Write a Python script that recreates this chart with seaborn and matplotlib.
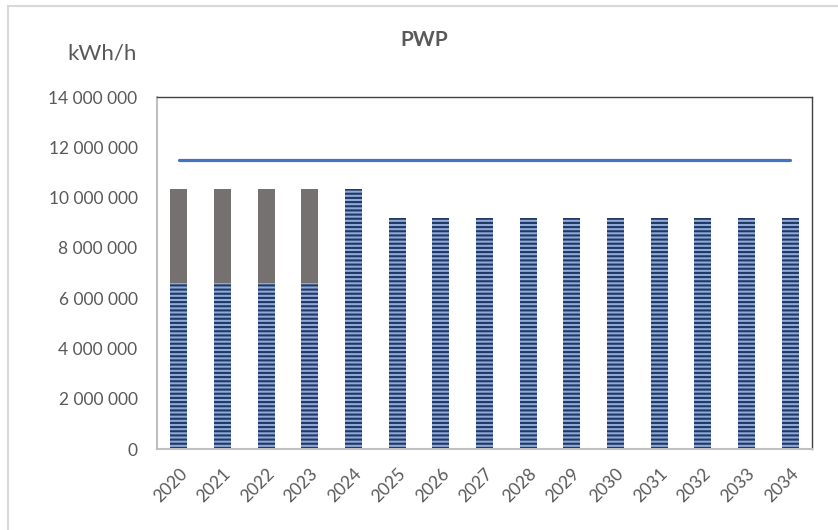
import numpy as np
import pandas as pd
import matplotlib
matplotlib.use("Agg")
import matplotlib.pyplot as plt
from matplotlib.ticker import FuncFormatter
from matplotlib.lines import Line2D
import seaborn as sns

years = [str(y) for y in range(2020, 2035)]
base_values = [6600000] * 4 + [10350000] + [9200000] * 10
upper_values = [3750000] * 4 + [0] * 11
capacity = [11500000] * 15

sns.set_theme(style="white")
plt.rcParams["font.family"] = ["Lato", "DejaVu Sans"]
plt.rcParams["hatch.linewidth"] = 1.5

totals = [b + u for b, u in zip(base_values, upper_values)]
df = pd.DataFrame({"year": years, "base": base_values, "total": totals,
                   "cap": capacity, "pos": np.arange(len(years))})

fig = plt.figure(figsize=(8.38, 5.30), dpi=100)
ax = fig.add_axes([157 / 838, 1 - 449 / 530, (812 - 157) / 838, (449 - 97) / 530])

sns.barplot(data=df, x="year", y="total", color="#767171", saturation=1,
            width=0.39, linewidth=0, ax=ax)
sns.barplot(data=df, x="year", y="base", color="#8fa9d9", saturation=1,
            width=0.39, linewidth=0, edgecolor="#1f3864", hatch="----", ax=ax)
sns.lineplot(data=df, x="pos", y="cap", color="#4472c4", linewidth=2.3, ax=ax)

ax.set_xlim(-0.5, 14.5)
ax.set_ylim(0, 14000000)
ax.set_yticks(np.arange(0, 14000001, 2000000))
ax.yaxis.set_major_formatter(FuncFormatter(lambda v, p: f"{int(v):,}".replace(",", " ")))
ax.set_xlabel("")
ax.set_ylabel("")

tc = "#595959"
ax.tick_params(axis="y", length=0, pad=14, labelsize=12.5, labelcolor=tc)
ax.tick_params(axis="x", length=0, pad=12, labelsize=12.5, labelcolor=tc)
for lab in ax.get_xticklabels():
    lab.set_rotation(45)
    lab.set_ha("right")
    lab.set_rotation_mode("anchor")

for s in ["top", "right"]:
    ax.spines[s].set_color("#404040")
    ax.spines[s].set_linewidth(1.0)
for s in ["left", "bottom"]:
    ax.spines[s].set_color("#bfbfbf")
    ax.spines[s].set_linewidth(1.5)

fig.text(424 / 838, 1 - 40 / 530, "PWP", ha="center", va="center",
         fontsize=15, fontweight="bold", color=tc)
fig.text(137 / 838, 1 - 53 / 530, "kWh/h", ha="right", va="center",
         fontsize=16, color=tc)

# outer chart border (top and left visible)
fig.add_artist(Line2D([8 / 838, 1], [1 - 6 / 530, 1 - 6 / 530],
                      transform=fig.transFigure, color="#d9d9d9", linewidth=1.5))
fig.add_artist(Line2D([8 / 838, 8 / 838], [0, 1 - 6 / 530],
                      transform=fig.transFigure, color="#d9d9d9", linewidth=1.5))

fig.savefig("out.png", dpi=100)
